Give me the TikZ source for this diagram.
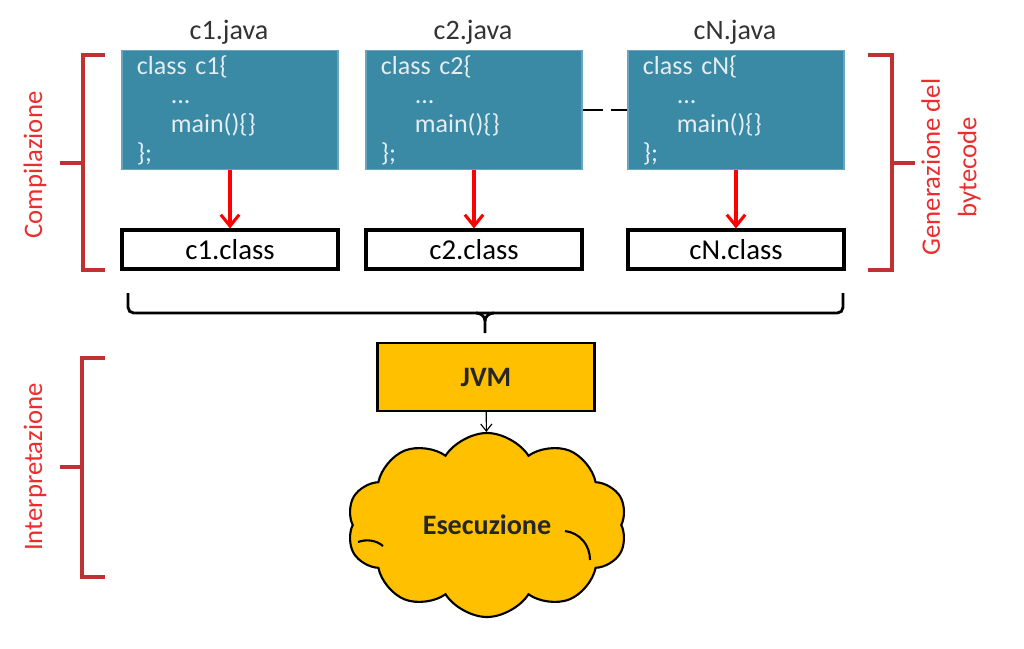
\documentclass[tikz,border=0pt]{standalone}
\usepackage{fontspec}
\setmainfont{Carlito}
\usetikzlibrary{arrows.meta,shapes.symbols}

\definecolor{javateal}{RGB}{58,137,165}
\definecolor{javaedge}{RGB}{105,165,190}
\definecolor{codetext}{RGB}{228,238,242}
\definecolor{jvmgold}{RGB}{255,192,0}
\definecolor{labred}{RGB}{236,45,45}
\definecolor{brkred}{RGB}{192,50,50}

\tikzset{
  javabox/.style={draw=javaedge, line width=0.8pt, fill=javateal, text=codetext,
    align=left, text width=4.65cm, minimum height=2.9cm, inner xsep=0.375cm,
    font=\fontsize{18.5}{20.6}\selectfont},
  classbox/.style={draw, line width=2.2pt, fill=white, minimum width=5.4cm,
    minimum height=0.975cm, font=\fontsize{20.5}{24}\selectfont},
  filename/.style={text=black!80, font=\fontsize{20}{24}\selectfont},
  phase/.style={rotate=90, text=labred, align=center, font=\fontsize{19}{26}\selectfont},
  bracket/.style={draw=brkred, line width=2.5pt},
  compile/.style={-{Straight Barb[length=8pt,width=13pt]}, red, line width=2.2pt},
}

\begin{document}
\begin{tikzpicture}[x=0.025cm, y=-0.025cm]
    \useasboundingbox (0,0) rectangle (1024,649);

    % sorgenti java
    \node[filename] (t1) at (229,32) {c1.java};
    \node[filename] (t2) at (473,32) {c2.java};
    \node[filename] (tN) at (735,32) {cN.java};

    \node[javabox] (c1) at (230,110) {class c1\{\\\hspace*{1.3em}...\\\hspace*{1.3em}main()\{\}\\\};};
    \node[javabox] (c2) at (474,110) {class c2\{\\\hspace*{1.3em}...\\\hspace*{1.3em}main()\{\}\\\};};
    \node[javabox] (cN) at (736,110) {class cN\{\\\hspace*{1.3em}...\\\hspace*{1.3em}main()\{\}\\\};};
    \draw[line width=1.6pt, dash pattern=on 0.5cm off 0.2cm] (c2) -- (cN);

    % bytecode
    \node[classbox] (k1) at (230,249.5) {c1.class};
    \node[classbox] (k2) at (474,249.5) {c2.class};
    \node[classbox] (kN) at (736,249.5) {cN.class};
    \draw[compile] (c1) -- (k1);
    \draw[compile] (c2) -- (k2);
    \draw[compile] (cN) -- (kN);

    % parentesi delle fasi
    \draw[bracket] (105,55) -- (83,55) -- (83,270) -- (105,270) (83,163) -- (60,163);
    \draw[bracket] (868,55) -- (892,55) -- (892,270) -- (868,270) (892,163) -- (915,163);
    \draw[bracket] (105,358) -- (82,358) -- (82,577) -- (105,577) (82,467) -- (60,467);
    \node[phase] (compl) at (35,165) {Compilazione};
    \node[phase] (gener) at (951,167) {Generazione del\\bytecode};
    \node[phase] (inter) at (35,467) {Interpretazione};

    % graffa
    \draw[line width=2pt, rounded corners=4pt] (128,293) |- (843,313) -- (843,293);
    \draw[line width=2pt] (476,313) to[out=0,in=90] (485,321) -- (485,333);
    \draw[line width=2pt] (494,313) to[out=180,in=90] (485,321);

    % esecuzione
    \node[draw, line width=1.6pt, fill=jvmgold, minimum width=5.425cm, minimum height=1.7cm,
      text=black!85, font=\bfseries\fontsize{20}{24}\selectfont] (jvm) at (486,377) {JVM};
    \node[cloud, cloud puffs=10, cloud puff arc=115, aspect=1.55, draw, line width=1.5pt,
      fill=jvmgold, minimum width=7cm, minimum height=4.6cm, text=black!85,
      font=\bfseries\fontsize{20}{24}\selectfont] (exec) at (487,525) {Esecuzione};
    \draw[line width=1.5pt] (565,531) .. controls (580,533) and (590,545) .. (590,560);
    \draw[line width=1.5pt] (358,542) .. controls (366,539) and (376,540) .. (383,546);
    \draw[-{Straight Barb[length=5pt,width=8pt]}, line width=0.8pt] (jvm) -- (exec);
\end{tikzpicture}
\end{document}
